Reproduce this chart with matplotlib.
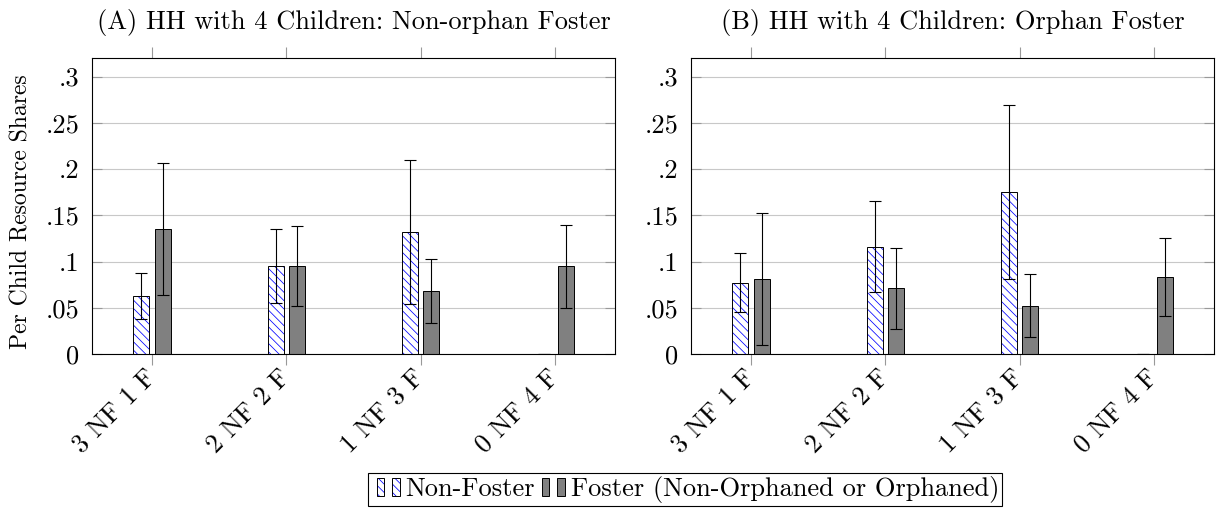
import matplotlib
matplotlib.use("Agg")
import matplotlib.pyplot as plt
import numpy as np
from matplotlib.patches import Rectangle
from matplotlib.legend_handler import HandlerBase

plt.rcParams['font.family'] = ['cmr10', 'DejaVu Serif']
plt.rcParams['mathtext.fontset'] = 'cm'
plt.rcParams['axes.formatter.use_mathtext'] = True
plt.rcParams['hatch.linewidth'] = 0.55

# data
categories = ['3 NF 1 F', '2 NF 2 F', '1 NF 3 F', '0 NF 4 F']
titles = ['(A) HH with 4 Children: Non-orphan Foster',
          '(B) HH with 4 Children: Orphan Foster']
yticks = [0, 0.05, 0.1, 0.15, 0.2, 0.25, 0.3]
ytick_labels = ['0', '.05', '.1', '.15', '.2', '.25', '.3']

nf_a = [0.063, 0.095, 0.132, 0.0]
nf_a_err = [0.025, 0.040, 0.078, 0.0]
f_a = [0.135, 0.095, 0.068, 0.095]
f_a_err = [0.071, 0.043, 0.035, 0.045]

nf_b = [0.077, 0.116, 0.175, 0.0]
nf_b_err = [0.032, 0.049, 0.094, 0.0]
f_b = [0.081, 0.071, 0.052, 0.083]
f_b_err = [0.071, 0.044, 0.034, 0.042]

HATCH_BLUE = '#0000ff'
HATCH = '\\\\\\\\'
GRAY = '#808080'
FS = 19

W, H = 1217, 527
fig = plt.figure(figsize=(W / 100, H / 100), dpi=100)


def hatched_bar(ax, x, h, width):
    # blue hatch lines, then black outline on top
    ax.bar(x, h, width, color='white', edgecolor=HATCH_BLUE, hatch=HATCH, linewidth=0, zorder=2)
    ax.bar(x, h, width, fill=False, edgecolor='black', linewidth=0.7, zorder=3)


def draw_panel(ax, title, nf, nf_err, f, f_err):
    x = np.arange(len(categories))
    bw = 0.12
    off = 0.08
    hatched_bar(ax, x - off, nf, bw)
    ax.bar(x + off, f, bw, color=GRAY, edgecolor='black', linewidth=0.7, zorder=2)
    ax.errorbar(x - off, nf, yerr=nf_err, fmt='none', ecolor='black', elinewidth=0.8,
                capsize=4.5, capthick=0.8, zorder=4)
    ax.errorbar(x + off, f, yerr=f_err, fmt='none', ecolor='black', elinewidth=0.8,
                capsize=4.5, capthick=0.8, zorder=4)

    ax.set_xlim(-0.447, 3.447)
    ax.set_ylim(0, 0.32)
    ax.set_yticks(yticks)
    ax.set_yticklabels(ytick_labels, fontsize=FS)
    ax.set_xticks(x)
    ax.set_xticklabels(categories, fontsize=FS, rotation=45, ha='right', va='center',
                       rotation_mode='anchor')
    ax.yaxis.grid(True, color='#c8c8c8', linewidth=0.8, zorder=0)
    ax.set_axisbelow(True)
    ax.tick_params(axis='x', direction='out', top=True, bottom=True, length=8,
                   color='#999999', width=0.8, pad=6)
    ax.tick_params(axis='y', direction='in', left=True, right=True, length=7.5,
                   color='#999999', width=0.8, pad=9)
    for s in ax.spines.values():
        s.set_linewidth(0.8)
        s.set_color('black')
    ax.set_title(title, fontsize=FS, pad=21)


ax1 = fig.add_axes([92 / W, 1 - 354 / H, (615 - 92) / W, (354 - 58) / H])
ax2 = fig.add_axes([691 / W, 1 - 354 / H, (1214 - 691) / W, (354 - 58) / H])

draw_panel(ax1, titles[0], nf_a, nf_a_err, f_a, f_a_err)
draw_panel(ax2, titles[1], nf_b, nf_b_err, f_b, f_b_err)
ax1.set_ylabel('Per Child Resource Shares', fontsize=17)
ax1.yaxis.set_label_coords(-0.113, 0.48)


class TwoBarHandler(HandlerBase):
    def __init__(self, hatched):
        super().__init__()
        self.hatched = hatched

    def create_artists(self, legend, orig_handle, xdescent, ydescent, width, height,
                       fontsize, trans):
        arts = []
        bw = width * 0.25
        start = -xdescent + width * 0.2
        for x0 in (start, start + bw + width * 0.28):
            if self.hatched:
                r1 = Rectangle((x0, -ydescent), bw, height, facecolor='white',
                               edgecolor=HATCH_BLUE, hatch=HATCH, linewidth=0,
                               transform=trans)
                r2 = Rectangle((x0, -ydescent), bw, height, fill=False,
                               edgecolor='black', linewidth=0.7, transform=trans)
                arts += [r1, r2]
            else:
                arts.append(Rectangle((x0, -ydescent), bw, height, facecolor=GRAY,
                                      edgecolor='black', linewidth=0.7, transform=trans))
        return arts


h_nf = Rectangle((0, 0), 1, 1)
h_f = Rectangle((0, 0), 1, 1)
leg = fig.legend([h_nf, h_f], ['Non-Foster', 'Foster (Non-Orphaned or Orphaned)'],
                 handler_map={h_nf: TwoBarHandler(True), h_f: TwoBarHandler(False)},
                 loc='upper left', bbox_to_anchor=(368 / W, 1 - 473 / H), ncol=2,
                 fontsize=FS, handlelength=1.1, handleheight=0.7, handletextpad=0.2,
                 columnspacing=0.05, borderpad=0.12, borderaxespad=0,
                 fancybox=False, framealpha=1, edgecolor='black')
leg.get_frame().set_linewidth(0.8)

fig.savefig('out.png', dpi=100)
